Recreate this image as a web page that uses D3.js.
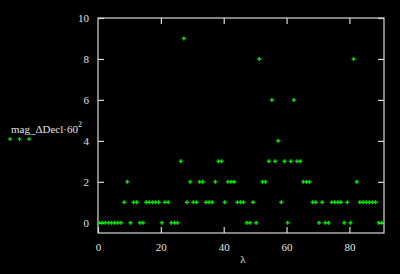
<!DOCTYPE html>
<html>
<head>
<meta charset="utf-8">
<title>mag_dDecl</title>
<script src="https://cdn.jsdelivr.net/npm/d3@7"></script>
<style>
  html, body { margin: 0; padding: 0; background: #000; }
  svg { display: block; }
  text { font-family: "Liberation Serif", "DejaVu Serif", serif; fill: #e0e0e0; }
</style>
</head>
<body>
<script>
// lambda goes 0..90, one value per step
var lambda = d3.range(0, 91);
var magDDecl = [
  0, 0, 0, 0, 0, 0, 0, 0, 1, 2,
  0, 1, 1, 0, 0, 1, 1, 1, 1, 1,
  0, 1, 1, 0, 0, 0, 3, 9, 1, 2,
  1, 1, 2, 2, 1, 1, 1, 2, 3, 3,
  1, 2, 2, 2, 1, 1, 1, 0, 0, 1,
  0, 8, 2, 2, 3, 6, 3, 4, 1, 3,
  0, 3, 6, 3, 3, 2, 2, 2, 1, 1,
  0, 1, 0, 0, 1, 1, 1, 1, 0, 1,
  0, 8, 2, 1, 1, 1, 1, 1, 1, 0,
  0
];
var xTicks = [0, 20, 40, 60, 80];
var yTicks = [0, 2, 4, 6, 8, 10];

var width = 400, height = 274;
var pL = 98, pR = 384, pT = 18, pB = 233;
var green = '#00e600', frame = '#d8d8d8';

var x = d3.scaleLinear().domain([0, 91]).range([pL, pR]);
var y = d3.scaleLinear().domain([-0.5, 10]).range([pB, pT]);

var svg = d3.select('body').append('svg')
    .attr('width', width).attr('height', height);
svg.append('rect').attr('width', width).attr('height', height).attr('fill', '#000');

// axes: ticks point inwards on all four sides
var tl = 6;
var axB = svg.append('g').attr('transform', 'translate(0,' + pB + ')')
    .call(d3.axisBottom(x).tickValues(xTicks).tickSize(-tl).tickPadding(tl + 4));
var axT = svg.append('g').attr('transform', 'translate(0,' + pT + ')')
    .call(d3.axisTop(x).tickValues(xTicks.slice(1)).tickSize(-tl).tickFormat(''));
var axL = svg.append('g').attr('transform', 'translate(' + pL + ',0)')
    .call(d3.axisLeft(y).tickValues(yTicks).tickSize(-tl).tickPadding(tl + 3));
var axR = svg.append('g').attr('transform', 'translate(' + pR + ',0)')
    .call(d3.axisRight(y).tickValues(yTicks).tickSize(-tl).tickFormat(''));

[axB, axT, axL, axR].forEach(function (a) {
    a.select('.domain').remove();
    a.selectAll('line').attr('stroke', frame).attr('stroke-width', 1.2);
    a.selectAll('text').attr('fill', '#e0e0e0').attr('font-size', 11)
        .attr('font-family', '"Liberation Serif", serif');
});

svg.append('rect')
    .attr('x', pL).attr('y', pT)
    .attr('width', pR - pL).attr('height', pB - pT)
    .attr('fill', 'none').attr('stroke', frame).attr('stroke-width', 1.2);

// points drawn as small plus signs
function plus(g) {
    g.append('line').attr('x1', -2).attr('x2', 2).attr('y1', 0).attr('y2', 0);
    g.append('line').attr('x1', 0).attr('x2', 0).attr('y1', -2).attr('y2', 2);
}
svg.append('g').selectAll('g').data(lambda).enter().append('g')
    .attr('transform', function (d, i) {
        return 'translate(' + (x(d) + 1) + ',' + y(magDDecl[i]) + ')';
    })
    .attr('stroke', green).attr('stroke-width', 1.4)
    .each(function () { plus(d3.select(this)); });

// x label
svg.append('text').attr('x', 243).attr('y', 263)
    .attr('text-anchor', 'middle').attr('font-size', 11).text('λ');

// legend
var leg = svg.append('text').attr('x', 11).attr('y', 133).attr('font-size', 11);
leg.append('tspan').text('mag_ΔDecl·60');
leg.append('tspan').attr('dy', -6).attr('font-size', 8).text('2');
svg.append('g').selectAll('g').data([10, 19.5, 29]).enter().append('g')
    .attr('transform', function (d) { return 'translate(' + d + ',139)'; })
    .attr('stroke', green).attr('stroke-width', 1.2)
    .each(function () { plus(d3.select(this)); });
</script>
</body>
</html>
